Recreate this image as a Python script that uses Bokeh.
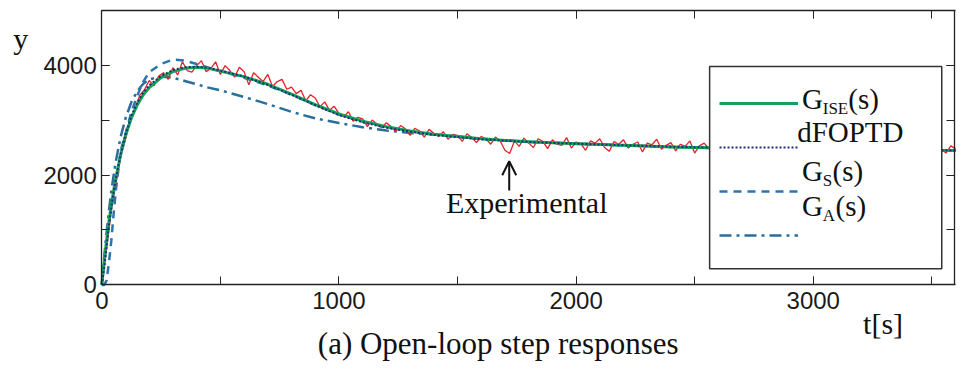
from bokeh.plotting import figure
from bokeh.models import (Range1d, LinearAxis, SingleIntervalTicker, Legend, LegendItem,
                          Label, Arrow, OpenHead, CustomJSTickFormatter, BoxAnnotation)
from bokeh.embed import file_html
from bokeh.resources import INLINE

# ---------------- data ----------------
t_model = [0, 10, 20, 30, 40, 50, 60, 80, 100, 125, 150, 175, 200, 250, 300, 350, 400, 450,
           500, 600, 700, 800, 900, 1000, 1100, 1200, 1300, 1400, 1500, 1600, 1700, 1800,
           1900, 2000, 2200, 2400, 2600, 2800, 3000, 3200, 3400, 3600]
g_ise = [0, 420, 800, 1150, 1450, 1720, 1960, 2380, 2720, 3040,
         3280, 3460, 3590, 3770, 3880, 3940, 3960, 3940, 3890, 3790,
         3650, 3470, 3280, 3110, 2980, 2880, 2800, 2740, 2700, 2660,
         2630, 2605, 2585, 2570, 2540, 2510, 2490, 2475, 2465, 2458,
         2452, 2448]
dfoptd = [0, 300, 700, 1080, 1400, 1690, 1950, 2390, 2740, 3080,
          3320, 3500, 3630, 3800, 3910, 3960, 3970, 3950, 3900, 3790,
          3640, 3460, 3270, 3090, 2960, 2860, 2790, 2730, 2690, 2650,
          2625, 2600, 2585, 2570, 2540, 2515, 2495, 2480, 2470, 2462,
          2455, 2450]
g_s = [0, 0, 80, 400, 800, 1300, 1750, 2450, 2750, 3150,
       3450, 3700, 3870, 4020, 4100, 4080, 4020, 3950, 3890, 3770,
       3630, 3460, 3270, 3100, 2970, 2870, 2790, 2735, 2695, 2655,
       2625, 2603, 2585, 2570, 2540, 2512, 2492, 2477, 2467, 2459,
       2453, 2449]
g_a = [0, 500, 950, 1350, 1700, 2000, 2270, 2700, 3030, 3330,
       3530, 3660, 3740, 3790, 3770, 3710, 3650, 3590, 3540, 3420,
       3290, 3150, 3030, 2945, 2870, 2810, 2765, 2735, 2700, 2660,
       2630, 2605, 2585, 2570, 2540, 2510, 2490, 2475, 2465, 2458,
       2452, 2448]

exp_t = list(range(0, 3601, 20))
exp_y = [0, 650, 1350, 1850, 2350, 2650, 3000, 3200, 3450, 3550,
         3720, 3620, 3800, 3860, 3740, 3950, 3820, 4060, 3900, 3870,
         3990, 4080, 3880, 3940, 4060, 3830, 3990, 3900, 3780, 3960,
         3880, 3640, 3860, 3780, 3700, 3830, 3610, 3700, 3740, 3560,
         3600, 3480, 3540, 3350, 3460, 3400, 3240, 3330, 3180, 3250,
         3120, 3060, 3150, 2980, 3050, 3020, 2880, 3000, 2930, 2860,
         2950, 2880, 2790, 2900, 2840, 2720, 2850, 2800, 2690, 2830,
         2760, 2700, 2790, 2650, 2740, 2720, 2610, 2750, 2680, 2590,
         2700, 2660, 2560, 2690, 2620, 2450, 2390, 2620, 2520, 2670,
         2580, 2500, 2660, 2610, 2480, 2640, 2560, 2540, 2680, 2490,
         2600, 2570, 2450, 2620, 2580, 2660, 2500, 2430, 2610, 2560,
         2640, 2490, 2560, 2600, 2420, 2580, 2550, 2650, 2470, 2540,
         2590, 2440, 2560, 2520, 2620, 2400, 2530, 2580, 2480, 2610,
         2520, 2430, 2570, 2540, 2460, 2600, 2390, 2550, 2510, 2470,
         2580, 2490, 2420, 2560, 2530, 2600, 2440, 2500, 2560, 2410,
         2540, 2500, 2590, 2430, 2520, 2470, 2560, 2380, 2530, 2500,
         2450, 2570, 2510, 2420, 2560, 2480, 2540, 2400, 2520, 2580,
         2460, 2500, 2380, 2550, 2510, 2430, 2570, 2470, 2400, 2530,
         2480]

x_ticks_every = 1000
y_ticks_every = 2000
arrow_t = 1718
arrow_y = [1720, 2250]

# ---------------- layout ----------------
W, H = 956, 363
RW, RH = 972, 379            # reference picture size; positions below are given in it
SX, SY = W / RW, H / RH


def cx(x):
    return x * SX


def cy(y):
    return y * SY


PX_L, PX_R, PX_T, PX_B = cx(103), cx(971), cy(10), cy(297)   # plot box on the canvas
X0, X1, Y0, Y1 = 0, 3600, 0, 5000                            # data limits of the box
kx = (X1 - X0) / (PX_R - PX_L)
ky = (Y1 - Y0) / (PX_B - PX_T)


def dx(px):   # reference pixel -> data x
    return X0 + (cx(px) - PX_L) * kx


def dy(py):   # reference pixel -> data y
    return Y0 + (PX_B - cy(py)) * ky


p = figure(width=W, height=H, output_backend="svg", toolbar_location=None,
           x_range=Range1d(X0 - PX_L * kx, X1 + (W - PX_R) * kx),
           y_range=Range1d(Y0 - (H - PX_B) * ky, Y1 + PX_T * ky),
           x_axis_location=None, y_axis_location=None, min_border=0,
           background_fill_color="white", border_fill_color="white")
p.outline_line_color = None
p.grid.visible = False

blank = CustomJSTickFormatter(code="return ''")


def make_axis(loc, bounds, every, show, standoff):
    ax = LinearAxis(fixed_location=loc, bounds=bounds,
                    ticker=SingleIntervalTicker(interval=every, num_minor_ticks=2))
    ax.major_tick_in = 8
    ax.major_tick_out = 0
    ax.minor_tick_in = 8
    ax.minor_tick_out = 0
    ax.axis_line_color = "#222222"
    ax.axis_line_width = 1.3
    ax.major_tick_line_color = "#222222"
    ax.minor_tick_line_color = "#222222"
    ax.major_label_text_font = "Liberation Sans"
    ax.major_label_text_color = "#1a1a1a"
    ax.major_label_text_font_size = "24px"
    ax.major_label_standoff = standoff
    if not show:
        ax.formatter = blank
    return ax


p.add_layout(make_axis(Y0, (X0, X1), x_ticks_every, True, 7), "below")
p.add_layout(make_axis(X0, (Y0, Y1), y_ticks_every, True, 5), "left")
p.add_layout(make_axis(Y1, (X0, X1), x_ticks_every, False, 0), "above")
p.add_layout(make_axis(X1 - 3, (Y0, Y1), y_ticks_every, False, 0), "right")

# ---------------- curves ----------------
r_a = p.line(t_model, g_a, color="#2a6f9c", line_width=2.5, line_dash="12 5 3 5")
r_s = p.line(t_model, g_s, color="#2c74b0", line_width=2.5, line_dash="8 6")
p.line(exp_t, exp_y, color="#e52228", line_width=1.3)
r_ise = p.line(t_model, g_ise, color="#1a9e5c", line_width=3)
r_d = p.line(t_model, dfoptd, color="#1b2f7a", line_width=2, line_dash="2 2")

# ---------------- legend (white box + glyph rows + text labels) ----------------
p.add_layout(BoxAnnotation(left=dx(721), right=dx(957), top=dy(69), bottom=dy(280),
                           fill_color="white", fill_alpha=1.0, line_color="#333333",
                           line_width=1.5, line_alpha=1.0, level="annotation"))

gw = round(80 * SX)
row = cy(46)
legend = Legend(items=[LegendItem(label=" ", renderers=[r]) for r in (r_ise, r_d, r_s, r_a)],
                location=(cx(731), H - cy(268)), glyph_width=gw, glyph_height=round(row),
                label_height=round(row), label_width=20, spacing=0,
                padding=0, label_standoff=2, border_line_color=None,
                background_fill_alpha=0.0, level="overlay")
p.add_layout(legend)

serif = "Liberation Serif"


def lab(text, x, y, size, align="left"):
    """x: left (or centre) of the text, y: its baseline, both in reference pixels."""
    p.add_layout(Label(x=cx(x), y=H - (cy(y) - 0.34 * size), x_units="screen",
                       y_units="screen", text=text, text_font=serif,
                       text_font_size=f"{size}px", text_align=align,
                       text_baseline="middle", text_color="#111111", level="overlay"))


lab("G", 815, 113, 29)
lab("ISE", 836, 119, 17)
lab("(s)", 862, 113, 29)
lab("dFOPTD", 810, 148, 29)
lab("G", 815, 188, 29)
lab("S", 836, 194, 17)
lab("(s)", 846, 188, 29)
lab("G", 815, 225, 29)
lab("A", 836, 231, 17)
lab("(s)", 849, 225, 29)

lab("y", 13, 50, 30)
lab("t[s]", 877, 348, 30)
lab("(a) Open-loop step responses", 506, 369, 31, "center")
lab("Experimental", 535, 222, 30, "center")

p.add_layout(Arrow(end=OpenHead(size=14, line_width=2, line_color="#111111"),
                   x_start=arrow_t, y_start=arrow_y[0], x_end=arrow_t, y_end=arrow_y[1],
                   line_width=2, line_color="#111111"))

open("out.html", "w").write(file_html(p, INLINE))
